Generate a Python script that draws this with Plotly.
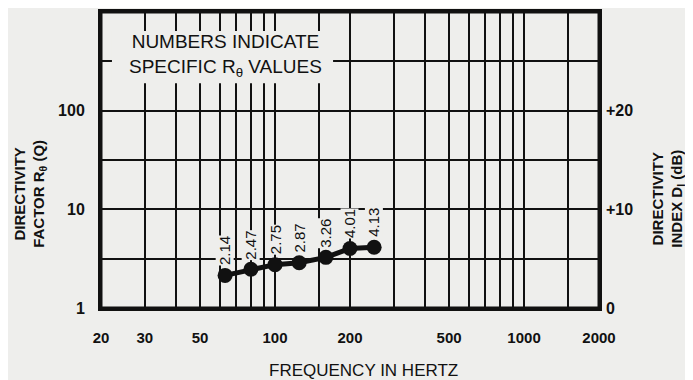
import math
import plotly.graph_objects as go

# ---- data ----
freqs = [63, 80, 100, 125, 160, 200, 250]
r_theta = [2.14, 2.47, 2.75, 2.87, 3.26, 4.01, 4.13]
x_tick_vals = [20, 30, 50, 100, 200, 500, 1000, 2000]
x_tick_text = ["20", "30", "50", "100", "200", "500", "1000", "2000"]
x_grid_vals = [30, 40, 50, 60, 70, 80, 90, 100, 150, 200, 300, 400, 500,
               600, 700, 800, 900, 1000, 1500]
y_tick_vals = [1, 10, 100]
y_tick_text = ["1", "10", "100"]
db_grid = [5, 15, 25]
db_tick_vals = [0, 10, 20]
db_tick_text = ["0", "+10", "+20"]

BG = "#eeeeec"
INK = "#111111"
FONT = "Liberation Sans, Arial, sans-serif"

fig = go.Figure()
fig.add_trace(go.Scatter(
    x=freqs, y=r_theta, mode="lines+markers",
    line=dict(color=INK, width=5),
    marker=dict(color=INK, size=15),
    showlegend=False, hoverinfo="skip",
))
# invisible trace on right axis so yaxis2 is drawn
fig.add_trace(go.Scatter(x=[freqs[0]], y=[None], yaxis="y2",
                         showlegend=False, hoverinfo="skip"))

for f, v in zip(freqs, r_theta):
    fig.add_annotation(
        x=math.log10(f), y=math.log10(v), xref="x", yref="y",
        text=f"{v:.2f}", showarrow=False, textangle=-90,
        yanchor="bottom", xanchor="center", yshift=9,
        font=dict(family=FONT, size=15, color=INK),
        bgcolor=BG, borderpad=0,
    )

# text box
fig.add_shape(type="rect", xref="paper", yref="paper",
              x0=0.022, x1=0.466, y0=0.759, y1=0.936,
              fillcolor=BG, line=dict(width=0), layer="above")
fig.add_annotation(
    xref="paper", yref="paper", x=0.25, y=0.852, xanchor="center", yanchor="middle",
    text="NUMBERS INDICATE<br>SPECIFIC R<sub>θ</sub> VALUES",
    showarrow=False, font=dict(family=FONT, size=19, color=INK),
    align="center",
)
# plot frame
fig.add_shape(type="rect", xref="paper", yref="paper", x0=0, x1=1, y0=0, y1=1,
              line=dict(color=INK, width=3), fillcolor="rgba(0,0,0,0)", layer="above")

# axis titles
fig.add_annotation(
    xref="paper", yref="paper", x=-0.143, y=0.385, textangle=-90,
    xanchor="center", yanchor="middle",
    text="DIRECTIVITY<br>FACTOR R<sub>θ</sub> (Q)", showarrow=False,
    font=dict(family=FONT, size=15, color=INK, weight="bold"), align="center",
)
fig.add_annotation(
    xref="paper", yref="paper", x=1.139, y=0.37, textangle=-90,
    xanchor="center", yanchor="middle",
    text="DIRECTIVITY<br>INDEX D<sub>I</sub> (dB)", showarrow=False,
    font=dict(family=FONT, size=15, color=INK, weight="bold"), align="center",
)
fig.add_annotation(
    xref="paper", yref="paper", x=0.528, y=-0.211,
    xanchor="center", yanchor="middle",
    text="FREQUENCY IN HERTZ", showarrow=False,
    font=dict(family=FONT, size=17, color=INK),
)

grid = dict(showgrid=True, gridcolor=INK, gridwidth=2)
fig.update_layout(
    width=685, height=372,
    margin=dict(l=93, r=94, t=1, b=72),
    paper_bgcolor=BG, plot_bgcolor=BG,
    xaxis=dict(
        type="log", range=[math.log10(20), math.log10(2000)],
        tickmode="array", tickvals=x_tick_vals, ticktext=x_tick_text,
        tickfont=dict(family=FONT, size=15, color=INK, weight="bold"),
        ticks="", ticklabelstandoff=14,
        showline=True, linecolor=INK, linewidth=3, mirror=True,
        minor=dict(tickmode="array", tickvals=x_grid_vals, showgrid=True,
                   gridcolor=INK, gridwidth=2, ticks=""),
        zeroline=False, **grid,
    ),
    yaxis=dict(
        type="log", range=[0, 3],
        tickmode="array", tickvals=y_tick_vals, ticktext=y_tick_text,
        tickfont=dict(family=FONT, size=16, color=INK, weight="bold"),
        ticks="", ticklabelstandoff=10,
        showline=True, linecolor=INK, linewidth=3, mirror=True,
        minor=dict(tickmode="array", tickvals=[10 ** (d / 10) for d in db_grid],
                   showgrid=True, gridcolor=INK, gridwidth=2, ticks=""),
        zeroline=False, **grid,
    ),
    yaxis2=dict(
        overlaying="y", side="right", range=[0, 30],
        tickmode="array", tickvals=db_tick_vals, ticktext=db_tick_text,
        tickfont=dict(family=FONT, size=16, color=INK, weight="bold"),
        ticks="", ticklabelstandoff=6, showgrid=False, zeroline=False,
        showline=False,
    ),
)

fig.write_html("out.html")
